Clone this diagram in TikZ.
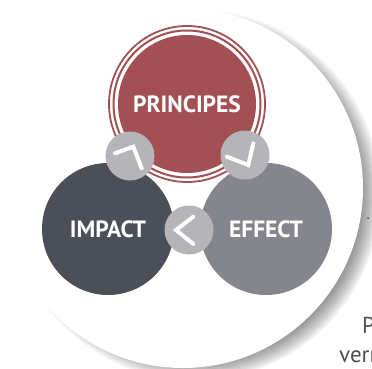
\documentclass[tikz,border=0pt]{standalone}
\usepackage{fontspec}
\setmainfont{PT Sans}
\usetikzlibrary{calc}

\definecolor{principesred}{HTML}{A25053}
\definecolor{impactdark}{HTML}{4A4F58}
\definecolor{effectgray}{HTML}{85858D}
\definecolor{linkgray}{HTML}{B4B4B9}
\definecolor{textgray}{HTML}{4D4D52}

\begin{document}
\begin{tikzpicture}[x=1pt, y=-1pt,
  bigcircle/.style={circle, inner sep=0pt, minimum size=132pt, text=white,
    font=\bfseries\fontsize{23.5}{23.5}\selectfont},
  linkcircle/.style={circle, fill=linkgray, inner sep=0pt, minimum size=49pt},
  chevron/.style={white, line width=4pt, line cap=round},
  sidetext/.style={anchor=base west, text=textgray, inner sep=0pt,
    font=\fontsize{23}{23}\selectfont}]

\useasboundingbox (0,0) rectangle (372,369);

% shadow and white disc
\foreach \i in {0,...,13}
  \fill[black, opacity=0.04] (195,195) circle ({166+1.5*\i});
\fill[white] (183,188) circle (180);

% the three circles
\node[bigcircle, fill=impactdark] (impact) at (108,229) {IMPACT};
\node[bigcircle, fill=effectgray] (effect) at (266,229) {EFFECT};
\node[bigcircle, fill=principesred, minimum size=138pt] (principes) at (187,104) {PRINCIPES};
\draw[principesred, line width=2pt] (principes.center) circle (73.5);
\draw[principesred, line width=1.8pt] (principes.center) circle (78);

% links with chevrons
\node[linkcircle] (linkL) at (130,156) {};
\node[linkcircle] (linkR) at (245,155) {};
\node[linkcircle] (linkB) at (189,230) {};
\draw[chevron] ([shift={(-15,-2.7)}]linkL.center) -- ([shift={(3.3,-9.3)}]linkL.center)
  -- ([shift={(11.7,12.3)}]linkL.center);
\draw[chevron] ([shift={(-18.3,1.7)}]linkR.center) -- ([shift={(3.3,10)}]linkR.center)
  -- ([shift={(8.3,-11.7)}]linkR.center);
\draw[chevron] ([shift={(4.3,-13.3)}]linkB.center) -- ([shift={(-13,0)}]linkB.center)
  -- ([shift={(4.3,14)}]linkB.center);

% cut text on the right
\fill[textgray] (368,218) circle (1);
\node[sidetext] (pword) at (362,333) {P};
\node[sidetext] (vword) at (339,362) {verr};

\end{tikzpicture}
\end{document}
